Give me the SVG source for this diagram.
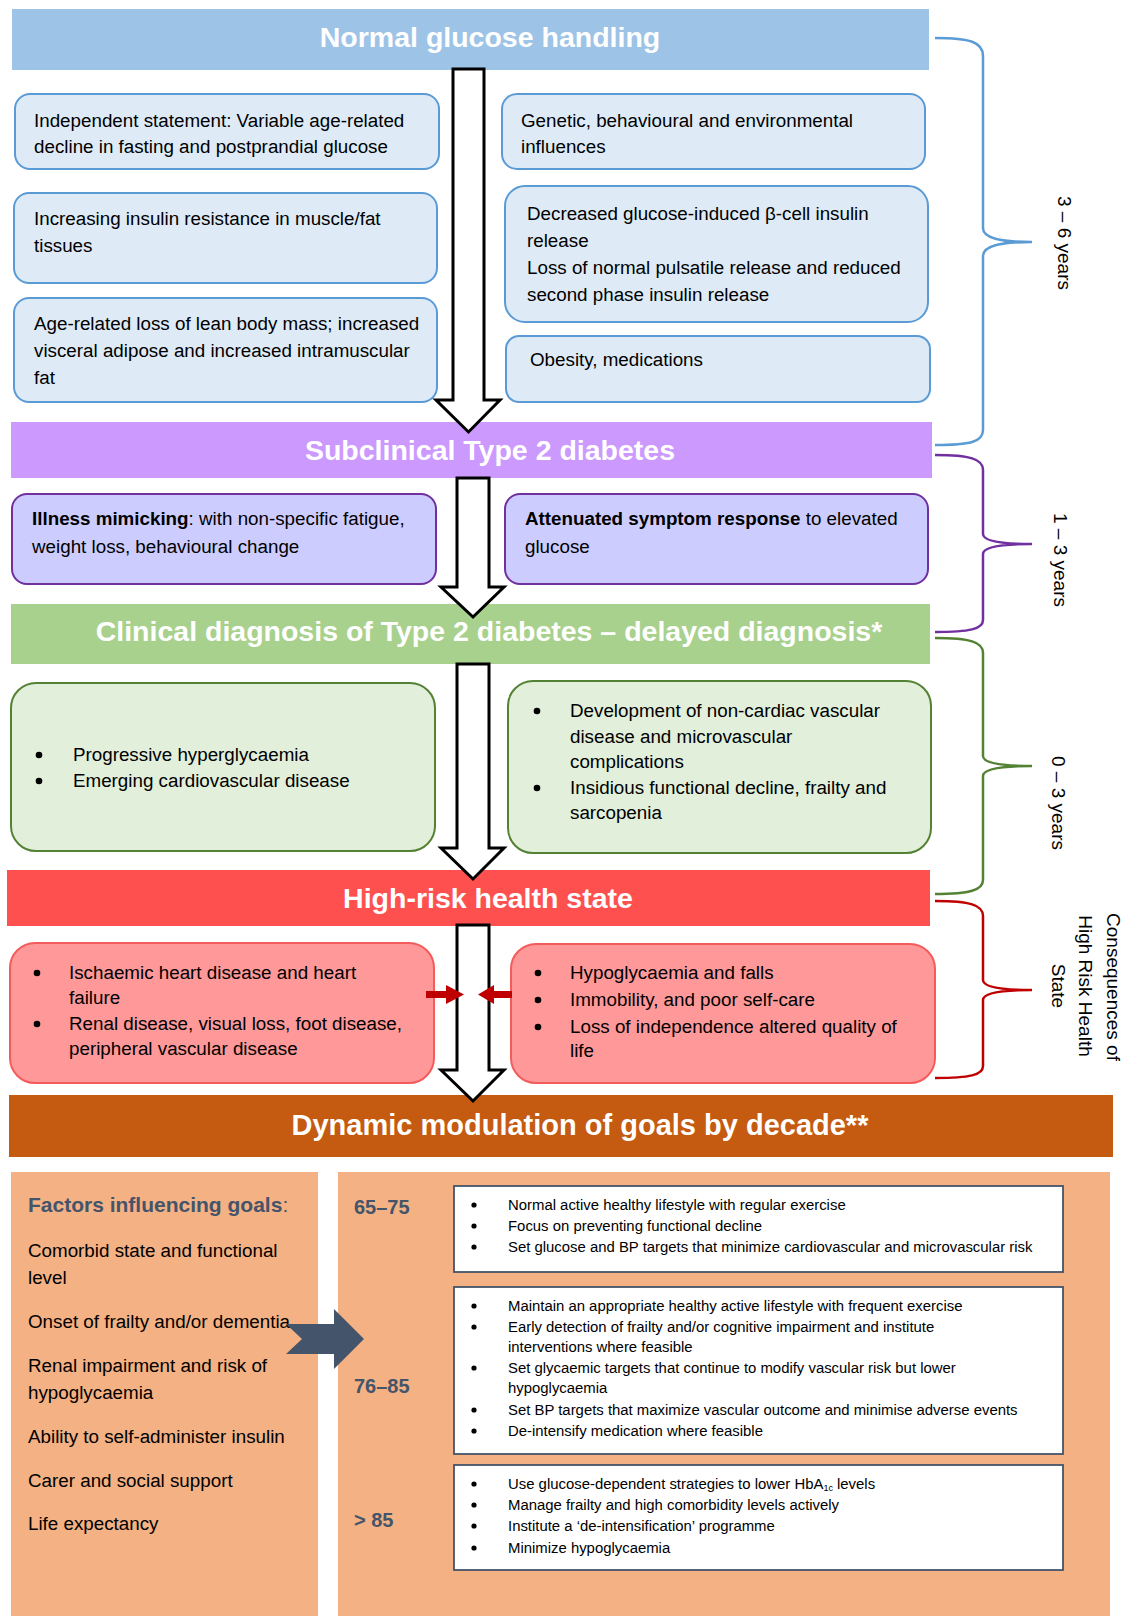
<svg xmlns="http://www.w3.org/2000/svg" width="1128" height="1616" viewBox="0 0 1128 1616">
<style>
text{font-family:"Liberation Sans",Arial,sans-serif;}
.t{font-size:18.8px;fill:#000;}
.s{font-size:14.9px;fill:#000;}
.b{font-weight:bold;}
.ban{font-size:28.5px;font-weight:bold;fill:#fff;text-anchor:middle;}
.bl{fill:#DEEBF7;stroke:#5B9BD5;stroke-width:2;}
.pu{fill:#CCCCFF;stroke:#7030A0;stroke-width:2;}
.gr{fill:#E2EFDA;stroke:#548235;stroke-width:2;}
.rd{fill:#FF9999;stroke:#F45B5B;stroke-width:2;}
.wb{fill:#fff;stroke:#44546A;stroke-width:1.8;}
.arr{fill:#fff;stroke:#000;stroke-width:3;stroke-linejoin:miter;}
.br{fill:none;stroke-width:2.5;}
.age{font-size:20px;font-weight:bold;fill:#44546A;}
.rot{font-size:19px;fill:#000;text-anchor:middle;}
.dot{fill:#000;}
</style>

<!-- Banners -->
<g id="banner-normal"><rect x="12" y="9" width="917" height="61" fill="#9DC3E6"/><text class="ban" x="490" y="47">Normal glucose handling</text></g>
<g id="banner-subclinical"><rect x="11" y="422" width="921" height="56" fill="#CC99FF"/><text class="ban" x="490" y="460">Subclinical Type 2 diabetes</text></g>
<g id="banner-clinical"><rect x="11" y="604" width="919" height="60" fill="#A9D18E"/><text class="ban" x="489" y="641">Clinical diagnosis of Type 2 diabetes – delayed diagnosis*</text></g>
<g id="banner-highrisk"><rect x="7" y="870" width="923" height="56" fill="#FF5050"/><text class="ban" x="488" y="908">High-risk health state</text></g>
<g id="banner-dynamic"><rect x="9" y="1095" width="1104" height="62" fill="#C55A11"/><text class="ban" x="580" y="1135" style="font-size:29px">Dynamic modulation of goals by decade**</text></g>

<!-- Blue boxes -->
<g id="box-independent"><rect class="bl" x="15" y="94" width="424" height="75" rx="15"/>
<text class="t" x="34" y="127">Independent statement: Variable age-related</text>
<text class="t" x="34" y="153">decline in fasting and postprandial glucose</text></g>
<g id="box-insulin-resistance"><rect class="bl" x="14" y="193" width="423" height="90" rx="15"/>
<text class="t" x="34" y="225">Increasing insulin resistance in muscle/fat</text>
<text class="t" x="34" y="252">tissues</text></g>
<g id="box-lean-mass"><rect class="bl" x="14" y="298" width="423" height="104" rx="15"/>
<text class="t" x="34" y="330">Age-related loss of lean body mass; increased</text>
<text class="t" x="34" y="357">visceral adipose and increased intramuscular</text>
<text class="t" x="34" y="384">fat</text></g>
<g id="box-genetic"><rect class="bl" x="502" y="94" width="423" height="75" rx="15"/>
<text class="t" x="521" y="127">Genetic, behavioural and environmental</text>
<text class="t" x="521" y="153">influences</text></g>
<g id="box-beta-cell"><rect class="bl" x="505" y="186" width="423" height="136" rx="20"/>
<text class="t" x="527" y="220">Decreased glucose-induced β-cell insulin</text>
<text class="t" x="527" y="247">release</text>
<text class="t" x="527" y="274">Loss of normal pulsatile release and reduced</text>
<text class="t" x="527" y="301">second phase insulin release</text></g>
<g id="box-obesity"><rect class="bl" x="506" y="336" width="424" height="66" rx="13"/>
<text class="t" x="530" y="366">Obesity, medications</text></g>

<!-- Purple boxes -->
<g id="box-illness"><rect class="pu" x="12" y="494" width="424" height="90" rx="15"/>
<text class="t" x="32" y="525"><tspan class="b">Illness mimicking</tspan>: with non-specific fatigue,</text>
<text class="t" x="32" y="553">weight loss, behavioural change</text></g>
<g id="box-attenuated"><rect class="pu" x="505" y="494" width="423" height="90" rx="15"/>
<text class="t" x="525" y="525"><tspan class="b">Attenuated symptom response</tspan> to elevated</text>
<text class="t" x="525" y="553">glucose</text></g>

<!-- Green boxes -->
<g id="box-hyperglycaemia"><rect class="gr" x="11" y="683" width="424" height="168" rx="25"/>
<circle class="dot" cx="39" cy="755" r="3.3"/><text class="t" x="73" y="761">Progressive hyperglycaemia</text>
<circle class="dot" cx="39" cy="781" r="3.3"/><text class="t" x="73" y="787">Emerging cardiovascular disease</text></g>
<g id="box-noncardiac"><rect class="gr" x="508" y="681" width="423" height="172" rx="25"/>
<circle class="dot" cx="537" cy="711" r="3.3"/><text class="t" x="570" y="717">Development of non-cardiac vascular</text>
<text class="t" x="570" y="743">disease and microvascular</text>
<text class="t" x="570" y="768">complications</text>
<circle class="dot" cx="537" cy="788" r="3.3"/><text class="t" x="570" y="794">Insidious functional decline, frailty and</text>
<text class="t" x="570" y="819">sarcopenia</text></g>

<!-- Red boxes -->
<g id="box-ischaemic"><rect class="rd" x="10" y="943" width="424" height="140" rx="25"/>
<circle class="dot" cx="37" cy="973" r="3.3"/><text class="t" x="69" y="979">Ischaemic heart disease and heart</text>
<text class="t" x="69" y="1004">failure</text>
<circle class="dot" cx="37" cy="1024" r="3.3"/><text class="t" x="69" y="1030">Renal disease, visual loss, foot disease,</text>
<text class="t" x="69" y="1055">peripheral vascular disease</text></g>
<g id="box-hypoglycaemia"><rect class="rd" x="511" y="944" width="424" height="139" rx="25"/>
<circle class="dot" cx="538" cy="973" r="3.3"/><text class="t" x="570" y="979">Hypoglycaemia and falls</text>
<circle class="dot" cx="538" cy="1000" r="3.3"/><text class="t" x="570" y="1006">Immobility, and poor self-care</text>
<circle class="dot" cx="538" cy="1027" r="3.3"/><text class="t" x="570" y="1033">Loss of independence altered quality of</text>
<text class="t" x="570" y="1057">life</text></g>

<!-- Bottom panels -->
<g id="panel-factors"><rect x="11" y="1172" width="307" height="444" fill="#F4B183"/>
<text x="28" y="1212" style="font-size:21px;fill:#44546A"><tspan class="b">Factors influencing goals</tspan>:</text>
<text class="t" x="28" y="1257">Comorbid state and functional</text>
<text class="t" x="28" y="1284">level</text>
<text class="t" x="28" y="1328">Onset of frailty and/or dementia</text>
<text class="t" x="28" y="1372">Renal impairment and risk of</text>
<text class="t" x="28" y="1399">hypoglycaemia</text>
<text class="t" x="28" y="1443">Ability to self-administer insulin</text>
<text class="t" x="28" y="1487">Carer and social support</text>
<text class="t" x="28" y="1530">Life expectancy</text></g>

<g id="panel-goals"><rect x="338" y="1172" width="772" height="444" fill="#F4B183"/>
<text class="age" x="354" y="1214">65–75</text>
<text class="age" x="354" y="1393">76–85</text>
<text class="age" x="354" y="1527">&gt; 85</text></g>

<g id="goals-65-75"><rect class="wb" x="454" y="1186" width="609" height="86"/>
<circle class="dot" cx="474" cy="1205" r="2.6"/><text class="s" x="508" y="1210">Normal active healthy lifestyle with regular exercise</text>
<circle class="dot" cx="474" cy="1226" r="2.6"/><text class="s" x="508" y="1231">Focus on preventing functional decline</text>
<circle class="dot" cx="474" cy="1247" r="2.6"/><text class="s" x="508" y="1252">Set glucose and BP targets that minimize cardiovascular and microvascular risk</text></g>

<g id="goals-76-85"><rect class="wb" x="454" y="1287" width="609" height="167"/>
<circle class="dot" cx="474" cy="1306" r="2.6"/><text class="s" x="508" y="1311">Maintain an appropriate healthy active lifestyle with frequent exercise</text>
<circle class="dot" cx="474" cy="1327" r="2.6"/><text class="s" x="508" y="1332">Early detection of frailty and/or cognitive impairment and institute</text>
<text class="s" x="508" y="1352">interventions where feasible</text>
<circle class="dot" cx="474" cy="1368" r="2.6"/><text class="s" x="508" y="1373">Set glycaemic targets that continue to modify vascular risk but lower</text>
<text class="s" x="508" y="1393">hypoglycaemia</text>
<circle class="dot" cx="474" cy="1410" r="2.6"/><text class="s" x="508" y="1415">Set BP targets that maximize vascular outcome and minimise adverse events</text>
<circle class="dot" cx="474" cy="1431" r="2.6"/><text class="s" x="508" y="1436">De-intensify medication where feasible</text></g>

<g id="goals-over-85"><rect class="wb" x="454" y="1465" width="609" height="105"/>
<circle class="dot" cx="474" cy="1484" r="2.6"/><text class="s" x="508" y="1489">Use glucose-dependent strategies to lower HbA<tspan style="font-size:9px" dy="2">1c</tspan><tspan dy="-2"> levels</tspan></text>
<circle class="dot" cx="474" cy="1505" r="2.6"/><text class="s" x="508" y="1510">Manage frailty and high comorbidity levels actively</text>
<circle class="dot" cx="474" cy="1526" r="2.6"/><text class="s" x="508" y="1531">Institute a ‘de-intensification’ programme</text>
<circle class="dot" cx="474" cy="1548" r="2.6"/><text class="s" x="508" y="1553">Minimize hypoglycaemia</text></g>

<!-- Brace labels -->
<g id="label-3-6"><text class="rot" transform="translate(1058,243) rotate(90)">3 – 6 years</text></g>
<g id="label-1-3"><text class="rot" transform="translate(1054,560) rotate(90)">1 – 3 years</text></g>
<g id="label-0-3"><text class="rot" transform="translate(1052,803) rotate(90)">0 – 3 years</text></g>
<g id="label-consequences"><text class="rot" transform="translate(1107,987) rotate(90)">Consequences of</text>
<text class="rot" transform="translate(1079,986) rotate(90)">High Risk Health</text>
<text class="rot" transform="translate(1052,986) rotate(90)">State</text></g>

<!-- Connectors -->
<g id="connectors">
<polygon class="arr" points="453,69 484,69 484,400 500,400 468.5,432 436,400 453,400"/>
<polygon class="arr" points="457,478 489,478 489,587 504,587 473,617 441,587 457,587"/>
<polygon class="arr" points="457,664 489,664 489,848 504,848 473,879 441,848 457,848"/>
<polygon class="arr" points="457,925 489,925 489,1070 504,1070 473,1101 441,1070 457,1070"/>
<polygon fill="#C00000" points="426,991 446,991 446,985 464,994.5 446,1004 446,998 426,998"/>
<polygon fill="#C00000" points="512,991 494,991 494,985 478,994.5 494,1004 494,998 512,998"/>
<polygon fill="#44546A" points="286,1324 334,1324 334,1309 364,1339 334,1369 334,1354 286,1354 302,1339"/>
<path class="br" stroke="#5B9BD5" d="M935,38 C970,38 983,42 983,56 L983,228 C983,238 1000,242 1032,242 C1000,242 983,246 983,256 L983,430 C983,442 970,445 935,445"/>
<path class="br" stroke="#7030A0" d="M935,455 C970,455 983,459 983,470 L983,534 C983,541 1000,544 1032,544 C1000,544 983,547 983,554 L983,620 C983,629 970,632 935,632"/>
<path class="br" stroke="#548235" d="M935,638 C970,638 983,642 983,653 L983,756 C983,763 1000,766 1032,766 C1000,766 983,769 983,776 L983,880 C983,890 970,894 935,894"/>
<path class="br" stroke="#C00000" d="M935,901 C970,901 983,905 983,916 L983,980 C983,987 1000,990 1032,990 C1000,990 983,993 983,1000 L983,1066 C983,1075 970,1078 935,1078"/>
</g>
</svg>
